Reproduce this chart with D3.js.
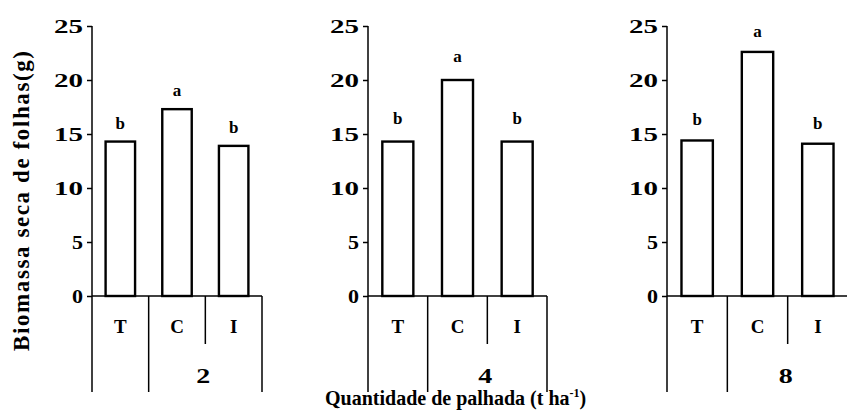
<!DOCTYPE html>
<html>
<head>
<meta charset="utf-8">
<script src="https://cdn.jsdelivr.net/npm/d3@7"></script>
<style>
  html, body { margin: 0; padding: 0; background: #fff; }
  svg { display: block; }
  text { font-family: "Liberation Serif", "Times New Roman", serif; font-weight: bold; fill: #000; }
</style>
</head>
<body>
<svg id="chart" width="847" height="416"></svg>
<script>
// ---- data ----
const categories = ["T", "C", "I"];
const groups = ["2", "4", "8"];
const values2 = [14.3, 17.3, 13.9];
const values4 = [14.3, 20.0, 14.3];
const values8 = [14.4, 22.6, 14.1];
const letters2 = ["b", "a", "b"];
const letters4 = ["b", "a", "b"];
const letters8 = ["b", "a", "b"];
const yTicks = [0, 5, 10, 15, 20, 25];
const yTitle = "Biomassa seca de folhas(g)";
const xTitle = "Quantidade de palhada (t  ha";
const xTitleSup = "-1";

const seriesValues = [values2, values4, values8];
const seriesLetters = [letters2, letters4, letters8];

// ---- layout ----
const svg = d3.select("#chart");
const yTop = 26, yZero = 296, yLong = 392, yShort = 344;
const panels = [
  { x0: 92, w: 170, gap: 13 },
  { x0: 368, w: 179, gap: 18 },
  { x0: 667, w: 181, gap: 15 }
];

const y = d3.scaleLinear().domain([0, 25]).range([yZero, yTop]);

panels.forEach((p, gi) => {
  const g = svg.append("g").attr("transform", `translate(${p.x0},0)`);
  const x = d3.scaleBand().domain(categories).range([0, p.w])
    .paddingInner(0.48).paddingOuter(0.24);
  const step = x.step();
  const vals = seriesValues[gi];
  const lets = seriesLetters[gi];

  // y axis
  const yAxis = d3.axisLeft(y).tickValues(yTicks).tickSize(5).tickPadding(4).tickFormat(d3.format("d"));
  const ya = g.append("g").call(yAxis);
  ya.select(".domain").remove();
  ya.selectAll(".tick line").attr("stroke", "#000").attr("stroke-width", 1.5);
  ya.selectAll(".tick text")
    .style("font-size", "19px").style("font-family", "'Liberation Serif', serif").style("font-weight", "bold")
    .attr("textLength", d => String(d).length > 1 ? 29 : 11)
    .attr("lengthAdjust", "spacingAndGlyphs");
  g.append("line").attr("x1", 0).attr("x2", 0).attr("y1", yTop).attr("y2", yLong)
    .attr("stroke", "#000").attr("stroke-width", 1.5);

  // x axis baseline
  g.append("line").attr("x1", 0).attr("x2", p.w).attr("y1", yZero).attr("y2", yZero)
    .attr("stroke", "#000").attr("stroke-width", 1.5);

  // dividers
  [1, 2, 3].forEach(k => {
    const xx = x.range()[0] + step * k;
    g.append("line").attr("x1", xx).attr("x2", xx)
      .attr("y1", yZero).attr("y2", k === 2 ? yShort : yLong)
      .attr("stroke", "#000").attr("stroke-width", 1.5);
  });

  // bars
  g.selectAll("rect.bar").data(categories).join("rect")
    .attr("class", "bar")
    .attr("x", d => x(d))
    .attr("width", x.bandwidth())
    .attr("y", (d, i) => y(vals[i]))
    .attr("height", (d, i) => yZero - y(vals[i]))
    .attr("fill", "#fff").attr("stroke", "#000").attr("stroke-width", 2.4);

  // significance letters
  g.selectAll("text.sig").data(categories).join("text")
    .attr("class", "sig")
    .attr("x", d => x(d) + x.bandwidth() / 2)
    .attr("y", (d, i) => y(vals[i]) - p.gap)
    .attr("text-anchor", "middle").style("font-size", "17px")
    .text((d, i) => lets[i]);

  // category labels
  g.selectAll("text.cat").data(categories).join("text")
    .attr("class", "cat")
    .attr("x", d => x(d) + x.bandwidth() / 2)
    .attr("y", 333)
    .attr("text-anchor", "middle").style("font-size", "19px")
    .text(d => d);

  // group label
  g.append("text")
    .attr("x", step * 2 - 2)
    .attr("y", 383)
    .attr("text-anchor", "middle").style("font-size", "20px")
    .attr("textLength", 14).attr("lengthAdjust", "spacingAndGlyphs")
    .text(groups[gi]);
});

// y title
svg.append("text")
  .attr("transform", "translate(29,201) rotate(-90)")
  .attr("text-anchor", "middle")
  .style("font-size", "23px")
  .attr("textLength", 300).attr("lengthAdjust", "spacing")
  .text(yTitle);

// x title
const xt = svg.append("text")
  .attr("x", 325).attr("y", 405)
  .style("font-size", "20px");
xt.append("tspan").text(xTitle);
xt.append("tspan").attr("dy", -8).style("font-size", "12px").text(xTitleSup);
xt.append("tspan").attr("dy", 8).text(")");
</script>
</body>
</html>
